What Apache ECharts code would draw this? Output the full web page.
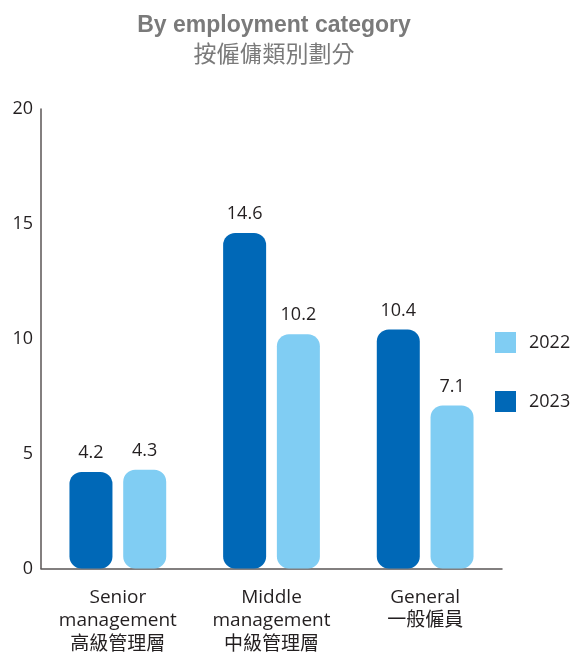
<!DOCTYPE html>
<html><head><meta charset="utf-8">
<script src="https://cdn.jsdelivr.net/npm/echarts@6/dist/echarts.min.js"></script>
<style>html,body{margin:0;padding:0;background:#fff}#c{width:575px;height:656px}</style>
</head><body><div id="c"></div>
<script>
const categories = ['Senior\nmanagement\n高級管理層', 'Middle\nmanagement\n中級管理層', 'General\n一般僱員'];
const values2023 = [4.2, 14.6, 10.4];
const values2022 = [4.3, 10.2, 7.1];
const yTicks = [0, 5, 10, 15, 20];

const FONT = '"Open Sans", "Noto Sans CJK TC", sans-serif';
const chart = echarts.init(document.getElementById('c'));
chart.setOption({
  animation: false,
  title: [
    {text: 'By employment category', left: 269, top: 9, textAlign: 'center',
     textStyle: {fontFamily: '"Liberation Sans", Arial, sans-serif', fontWeight: 'bold', fontSize: 23, color: '#7a7a7a'}},
    {text: '按僱傭類別劃分', left: 269, top: 37, textAlign: 'center',
     textStyle: {fontFamily: '"Noto Sans CJK TC", sans-serif', fontWeight: 'normal', fontSize: 23, color: '#7a7a7a'}}
  ],
  legend: {
    orient: 'vertical', left: 495, top: 332, padding: 0, itemWidth: 21, itemHeight: 21, itemGap: 38,
    icon: 'rect', data: ['2022', '2023'],
    textStyle: {fontFamily: FONT, fontSize: 18, color: '#231f20', padding: [0, 0, 0, 8]}
  },
  grid: {left: 41, right: 73, top: 109, bottom: 87, containLabel: false},
  xAxis: {
    type: 'category', data: categories,
    axisLine: {lineStyle: {color: '#5a5555', width: 1.5}},
    axisTick: {show: false},
    axisLabel: {fontFamily: FONT, fontSize: 19, color: '#231f20', lineHeight: 23.5, margin: 17, interval: 0}
  },
  yAxis: {
    type: 'value', min: yTicks[0], max: yTicks[yTicks.length - 1], interval: 5,
    axisLine: {show: true, lineStyle: {color: '#5a5555', width: 1.5}},
    axisTick: {show: false}, splitLine: {show: false},
    axisLabel: {fontFamily: FONT, fontSize: 18, color: '#231f20', margin: 8}
  },
  series: [
    {name: '2023', type: 'bar', data: values2023, barWidth: 43, barGap: '25%',
     itemStyle: {color: '#0068b7', borderRadius: 12},
     label: {show: true, position: 'top', distance: 10, fontFamily: FONT, fontSize: 18, color: '#231f20'}},
    {name: '2022', type: 'bar', data: values2022, barWidth: 43,
     itemStyle: {color: '#80cdf3', borderRadius: 12},
     label: {show: true, position: 'top', distance: 10, fontFamily: FONT, fontSize: 18, color: '#231f20'}}
  ]
});
</script></body></html>
